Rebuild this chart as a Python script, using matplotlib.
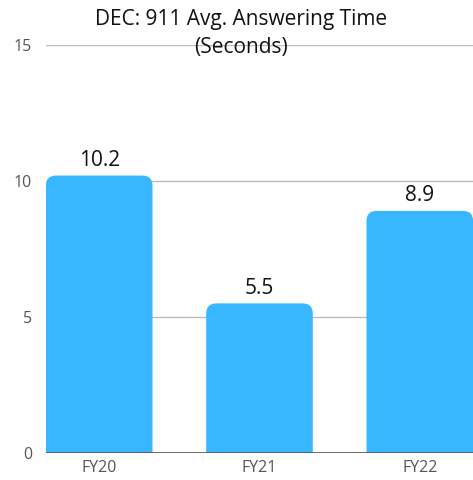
import matplotlib
matplotlib.use('Agg')
import matplotlib.pyplot as plt
from matplotlib.patches import FancyBboxPatch

plt.rcParams['font.family'] = ['Open Sans', 'DejaVu Sans']

categories = ['FY20', 'FY21', 'FY22']
values = [10.2, 5.5, 8.9]
value_labels = ['10.2', '5.5', '8.9']
yticks = [0, 5, 10, 15]

BAR = '#38B6FF'
GRID = '#BDBDBD'
TICK = '#555555'

fig = plt.figure(figsize=(4.73, 4.8), dpi=100)
ax = fig.add_axes([46 / 473, 1 - 453 / 480, 1 - 46 / 473, 408 / 480])

width = 0.665
xs = list(range(len(categories)))
ax.set_xlim(-0.332, len(categories) - 1 + 0.332)
ax.set_ylim(0, 15)

# rounded top corners: ~10 px radius
r = 10 / 161
aspect = (10 / 27.2) / r
for x, v, lab in zip(xs, values, value_labels):
    patch = FancyBboxPatch((x - width / 2 + r, -1 + r * aspect), width - 2 * r, v + 1 - 2 * r * aspect,
                           boxstyle=f'round,pad={r},rounding_size={r}', mutation_aspect=aspect,
                           facecolor=BAR, edgecolor='none', zorder=3, clip_on=True)
    ax.add_patch(patch)
    ax.text(x, v + 0.18, lab, ha='center', va='bottom', fontsize=15, color='#111111')

ax.set_yticks(yticks)
ax.set_yticklabels([str(t) for t in yticks])
ax.set_xticks(xs)
ax.set_xticklabels(categories)
ax.tick_params(axis='both', length=0, labelsize=11.5, colors=TICK, pad=5)
ax.tick_params(axis='y', pad=10)
for t in yticks[1:]:
    ax.axhline(t, color=GRID, lw=1, zorder=1)
ax.axhline(0, color='#555555', lw=1.2, zorder=4)
for s in ax.spines.values():
    s.set_visible(False)

fig.text(241 / 473, 1 - 20 / 480, 'DEC: 911 Avg. Answering Time', ha='center', va='center', fontsize=15, color='#111111')
fig.text(241 / 473, 1 - 48 / 480, '(Seconds)', ha='center', va='center', fontsize=15, color='#111111')

fig.savefig('out.png', dpi=100, facecolor='white')
